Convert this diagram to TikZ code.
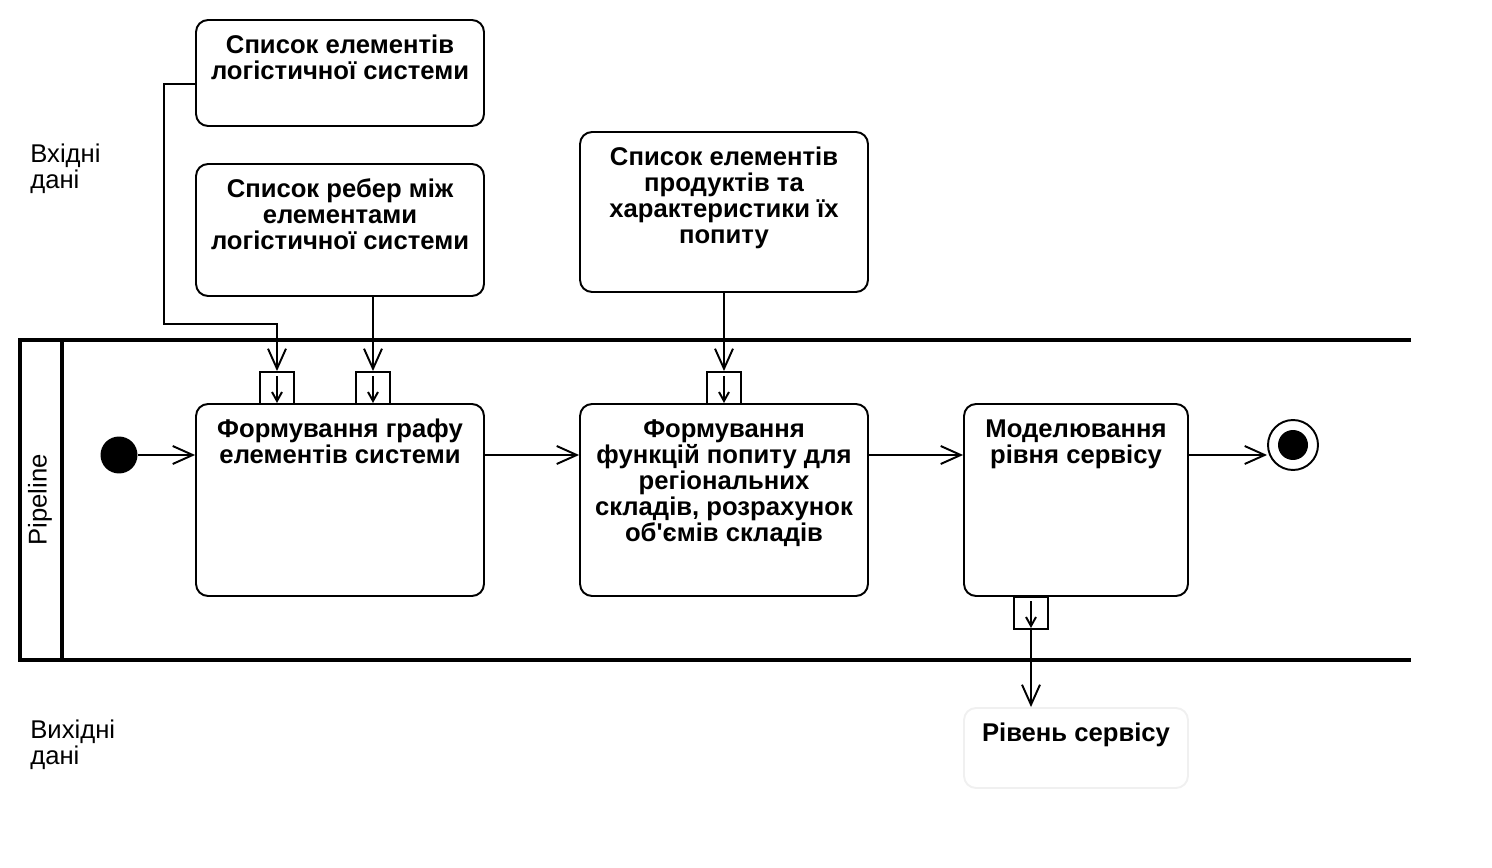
\documentclass[tikz,border=0pt]{standalone}
\usepackage{fontspec}
\setmainfont{Liberation Sans}
\usetikzlibrary{arrows.meta}
\newcommand{\boxtext}[3]{\parbox[c][#2][t]{#1}{\centering\rule{0pt}{0.67cm}#3}}

\begin{document}
\begin{tikzpicture}[x=0.02cm,y=-0.02cm,
    every node/.style={font=\fontsize{14.6pt}{14.75pt}\selectfont},
    box/.style={draw,rounded corners=0.24cm,line width=1.1pt,inner sep=0pt,font=\fontsize{14.6pt}{14.75pt}\selectfont\bfseries},
    pinbox/.style={draw,fill=white,line width=1.1pt,minimum width=0.68cm,minimum height=0.64cm,inner sep=0pt},
    flow/.style={line width=1.1pt,-{Straight Barb[length=0.4cm,width=0.36cm]}},
    tick/.style={line width=1.1pt,-{Straight Barb[length=0.18cm,width=0.2cm]}},
    lane/.style={line width=2.3pt}]
  \useasboundingbox (0,0) rectangle (1492,868);

  % swimlane
  \draw[lane] (1411,340) -- (20,340) -- (20,660) -- (1411,660);
  \draw[lane] (62,340) -- (62,660);
  \node[rotate=90] (lanename) at (40,500) {Pipeline};

  % inputs / outputs
  \node[anchor=west,align=left,inner sep=0pt] (inlabel) at (30,169) {Вхідні\\дані};
  \node[anchor=west,align=left,inner sep=0pt] (outlabel) at (30,745) {Вихідні\\дані};
  \node[box] (elems) at (340,73) {\boxtext{5.76cm}{2.12cm}{Список елементів\\логістичної системи}};
  \node[box] (edges) at (340,230) {\boxtext{5.76cm}{2.64cm}{Список ребер між\\елементами\\логістичної системи}};
  \node[box] (prods) at (724,212) {\boxtext{5.76cm}{3.2cm}{Список елементів\\продуктів та\\характеристики їх\\попиту}};
  \node[box,draw=black!6] (level) at (1076,748) {\boxtext{4.48cm}{1.6cm}{Рівень сервісу}};

  % actions
  \node[circle,fill=black,minimum size=0.74cm,inner sep=0pt] (init) at (119,455) {};
  \node[box] (graph) at (340,500) {\boxtext{5.76cm}{3.84cm}{Формування графу\\елементів системи}};
  \node[box] (demand) at (724,500) {\boxtext{5.76cm}{3.84cm}{Формування\\функцій попиту для\\регіональних\\складів, розрахунок\\об\textquotesingle ємів складів}};
  \node[box] (model) at (1076,500) {\boxtext{4.48cm}{3.84cm}{Моделювання\\рівня сервісу}};
  \node[circle,draw,line width=1.1pt,minimum size=1.0cm,inner sep=0pt] (fin) at (1293,445) {};
  \node[circle,fill=black,minimum size=0.6cm,inner sep=0pt] (findot) at (fin) {};

  % pins
  \node[pinbox] (pa) at (277,388) {};
  \node[pinbox] (pb) at (373,388) {};
  \node[pinbox] (pc) at (724,388) {};
  \node[pinbox] (pd) at (1031,613) {};
  \foreach \p in {pa,pb,pc,pd}
    \draw[tick] ([yshift=-0.1cm]\p.north) -- ([yshift=0.04cm]\p.south);

  % flows
  \draw[flow] ([yshift=-0.22cm]elems.west) -| (164,324) -| (pa.north);
  \draw[flow] (pb.north |- edges.south) -- (pb.north);
  \draw[flow] (prods.south) -- (pc.north);
  \draw[flow] (init) -- (graph.west |- init);
  \draw[flow] (graph.east |- init) -- (demand.west |- init);
  \draw[flow] (demand.east |- init) -- (model.west |- init);
  \draw[flow] (model.east |- init) -- (fin.west |- init);
  \draw[flow] (pd.south) -- (pd.south |- level.north);
\end{tikzpicture}
\end{document}
